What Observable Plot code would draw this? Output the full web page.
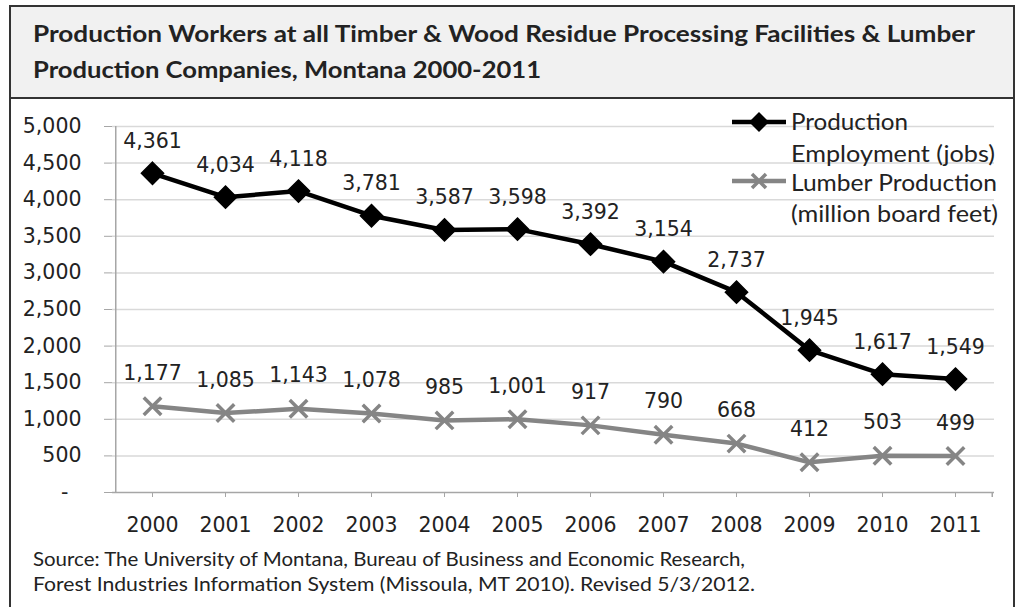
<!DOCTYPE html>
<html><head><meta charset="utf-8">
<script src="https://cdn.jsdelivr.net/npm/d3@7"></script>
<script src="https://cdn.jsdelivr.net/npm/@observablehq/plot@0.6"></script>
<style>
body{margin:0;background:#fff;font-family:Lato,sans-serif;color:#222;}
#frame{position:absolute;left:9px;top:5px;width:1002px;height:620px;border:2px solid #333;}
#title{position:absolute;left:9px;top:5px;width:1002px;height:90px;border:2px solid #333;background:#f1f1f1;}
.fit{position:absolute;white-space:nowrap;transform-origin:0 50%;line-height:1;}
#title .fit{font-weight:bold;font-size:23.5px;}
#chart{position:absolute;left:0;top:100px;}
#legend{position:absolute;left:0;top:0;}
#legend .fit{font-size:23px;}
.cap{font-size:18.5px;}
</style></head>
<body>
<div id="frame"></div>
<div id="title">
  <div class="fit" data-w="942" style="left:22px;top:15px">Production Workers at all Timber &amp; Wood Residue Processing Facilities &amp; Lumber</div>
  <div class="fit" data-w="508" style="left:22px;top:51px">Production Companies, Montana 2000-2011</div>
</div>
<div id="chart"></div>
<div id="legend"></div>
<div class="fit cap" data-w="712" style="left:33px;top:550px">Source: The University of Montana, Bureau of Business and Economic Research,</div>
<div class="fit cap" data-w="722" style="left:33px;top:575px">Forest Industries Information System (Missoula, MT 2010). Revised 5/3/2012.</div>
<script>
const years = ["2000","2001","2002","2003","2004","2005","2006","2007","2008","2009","2010","2011"];
const employment = [4361,4034,4118,3781,3587,3598,3392,3154,2737,1945,1617,1549];
const lumber = [1177,1085,1143,1078,985,1001,917,790,668,412,503,499];
const yTicks = [0,500,1000,1500,2000,2500,3000,3500,4000,4500,5000];
const seriesNames = ["Production Employment (jobs)","Lumber Production (million board feet)"];

const emp = years.map((y,i)=>({year:y,value:employment[i]}));
const lum = years.map((y,i)=>({year:y,value:lumber[i]}));
const fmt = d3.format(",");
const font = "'DejaVu Sans',sans-serif";
const fs = 20.5;

const chart = Plot.plot({
  width:1025, height:440,
  marginLeft:112, marginRight:31, marginTop:26, marginBottom:48,
  style:{fontFamily:font, fontSize:fs+"px", color:"#222", background:"transparent"},
  x:{type:"point", domain:years, padding:0.5, label:null},
  y:{domain:[0,5000], ticks:yTicks, label:null},
  marks:[
    Plot.gridY(yTicks.filter(d=>d>0),{stroke:"#d9d9d9", strokeOpacity:1, strokeWidth:1.5}),
    Plot.axisY({ticks:yTicks, tickFormat:d=>d===0?"-\u2007":fmt(d), tickSize:8, tickPadding:23, stroke:"#a6a6a6", fontSize:fs, label:null}),
    Plot.ruleX([years[0]],{stroke:"#a6a6a6", strokeWidth:1.5, dx:-36.75}),
    Plot.ruleX([years[11]],{y1:0, y2:-70, stroke:"#a6a6a6", strokeWidth:1.5, dx:36.75}),
    Plot.ruleY([0],{stroke:"#a6a6a6", strokeWidth:1.5}),
    Plot.axisX({tickSize:5, tickPadding:20, stroke:"#a6a6a6", fontSize:fs, label:null}),
    Plot.line(lum,{x:"year", y:"value", stroke:"#858585", strokeWidth:4.5}),
    Plot.dot(lum,{x:"year", y:"value", symbol:"times", r:8, stroke:"#858585", strokeWidth:3.5}),
    Plot.line(emp,{x:"year", y:"value", stroke:"#000", strokeWidth:4.5}),
    Plot.dot(emp,{x:"year", y:"value", symbol:"diamond2", r:10, fill:"#000", stroke:"#000"}),
    Plot.text(emp,{x:"year", y:"value", text:d=>fmt(d.value), dy:-32, fontSize:fs, fill:"#222"}),
    Plot.text(lum,{x:"year", y:"value", text:d=>fmt(d.value), dy:-33, fontSize:fs, fill:"#222"})
  ]
});
document.getElementById("chart").appendChild(chart);

const leg = document.getElementById("legend");
leg.innerHTML = `
<svg width="1025" height="240" style="position:absolute;left:0;top:0">
  <line x1="732" y1="122" x2="786" y2="122" stroke="#000" stroke-width="4.5"/>
  <path d="M759,112 L769,122 L759,132 L749,122 Z" fill="#000"/>
  <line x1="732" y1="181" x2="786" y2="181" stroke="#858585" stroke-width="4.5"/>
  <path d="M752,174 L766,188 M766,174 L752,188" stroke="#858585" stroke-width="3.5"/>
</svg>
<div class="fit" data-w="117" style="left:791px;top:110px">${seriesNames[0].split(" ")[0]}</div>
<div class="fit" data-w="204" style="left:791px;top:142px">${seriesNames[0].split(" ").slice(1).join(" ")}</div>
<div class="fit" data-w="206" style="left:791px;top:171px">${seriesNames[1].split(" ").slice(0,2).join(" ")}</div>
<div class="fit" data-w="207" style="left:791px;top:202px">${seriesNames[1].split(" ").slice(2).join(" ")}</div>`;

document.querySelectorAll(".fit").forEach(el=>{
  const target = +el.dataset.w;
  const w = el.getBoundingClientRect().width;
  if (target && w) el.style.transform = `scaleX(${target/w})`;
});
</script>
</body></html>
